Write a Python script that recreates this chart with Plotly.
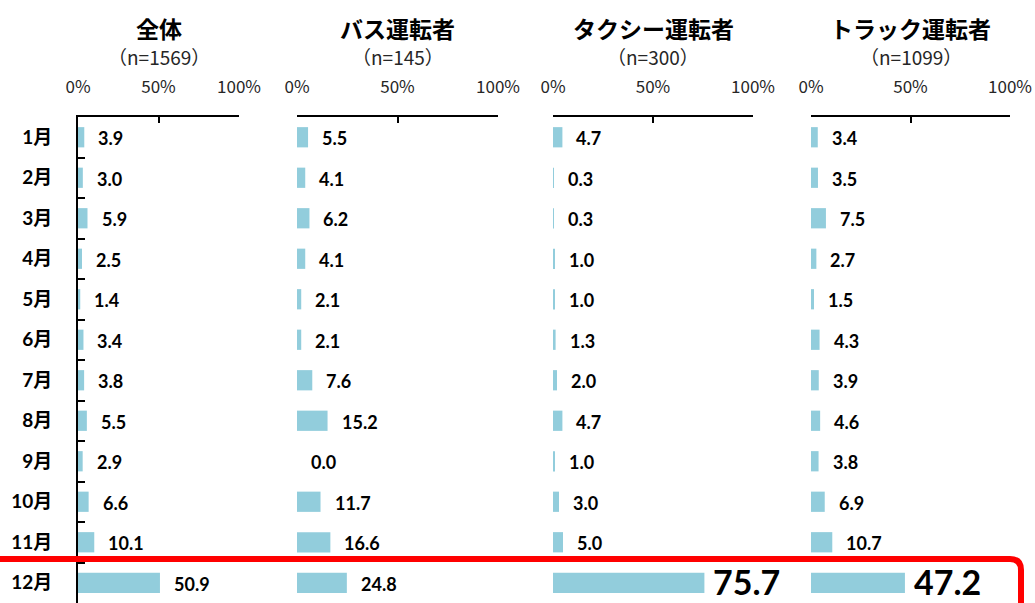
import plotly.graph_objects as go

W, H = 1035, 603

months = ["1月", "2月", "3月", "4月", "5月", "6月", "7月", "8月", "9月", "10月", "11月", "12月"]
titles = ["全体", "バス運転者", "タクシー運転者", "トラック運転者"]
subtitles = ["（n=1569）", "（n=145）", "（n=300）", "（n=1099）"]
zentai = [3.9, 3.0, 5.9, 2.5, 1.4, 3.4, 3.8, 5.5, 2.9, 6.6, 10.1, 50.9]
bus = [5.5, 4.1, 6.2, 4.1, 2.1, 2.1, 7.6, 15.2, 0.0, 11.7, 16.6, 24.8]
taxi = [4.7, 0.3, 0.3, 1.0, 1.0, 1.3, 2.0, 4.7, 1.0, 3.0, 5.0, 75.7]
truck = [3.4, 3.5, 7.5, 2.7, 1.5, 4.3, 3.9, 4.6, 3.8, 6.9, 10.7, 47.2]
tick_vals = [0, 50, 100]
tick_text = ["0%", "50%", "100%"]

series = [zentai, bus, taxi, truck]
# panel pixel extents (left, right) of the 0-100% axis
panel_px = [(78, 239), (297, 498), (553, 753), (811, 1010)]
plot_top_px = 117

BAR = "#92CDDC"
NUM_FONT = "Lato, 'Noto Sans CJK JP', sans-serif"
JP_FONT = "'Noto Sans CJK JP', 'Noto Sans', sans-serif"


def px(x):
    return x / W


def py(y):
    return 1 - y / H


fig = go.Figure()
annotations = []
layout_axes = {}

for i, vals in enumerate(series):
    n = "" if i == 0 else str(i + 1)
    fig.add_trace(go.Bar(
        x=vals, y=months, orientation="h",
        xaxis="x" + n, yaxis="y" + n,
        marker=dict(color=BAR, line=dict(width=0)),
        width=0.5, showlegend=False, hoverinfo="x+y",
    ))
    l, r = panel_px[i]
    layout_axes["xaxis" + n] = dict(
        domain=[px(l), px(r)], range=[0, 100], side="top",
        anchor="y" + n, tickvals=tick_vals, ticktext=tick_text,
        showline=True, linecolor="black", linewidth=2,
        ticks="inside", ticklen=6, tickwidth=1.5, tickcolor="black",
        showgrid=False, zeroline=False, ticklabelstandoff=15,
        tickfont=dict(family=JP_FONT, size=17, color="#262626"),
        fixedrange=True, automargin=False,
    )
    yax = dict(
        domain=[0, py(plot_top_px)], anchor="x" + n,
        type="category", categoryorder="array", categoryarray=months,
        range=[11.5, -0.5], showgrid=False, zeroline=False,
        fixedrange=True, automargin=False,
    )
    if i == 0:
        yax.update(showline=True, linecolor="black", linewidth=2,
                   ticks="inside", tickson="boundaries", ticklen=7,
                   tickwidth=1.5, tickcolor="black", ticklabelstandoff=20,
                   tickfont=dict(family=NUM_FONT, size=19, color="black",
                                 weight="bold"))
    else:
        yax.update(showline=False, showticklabels=False, ticks="")
    layout_axes["yaxis" + n] = yax

    for j, v in enumerate(vals):
        big = (j == 11 and i >= 2)
        annotations.append(dict(
            x=v, y=months[j], xref="x" + n, yref="y" + n,
            text=f"{v:.1f}", showarrow=False, xanchor="left",
            yanchor="middle", xshift=7 if big else 12,
            yshift=1 if big else -1,
            font=dict(family=NUM_FONT, size=34 if big else 18,
                      color="black", weight="bold"),
        ))

    cx = (l + r) / 2
    annotations.append(dict(
        x=px(cx), y=py(28), xref="paper", yref="paper", text=titles[i],
        showarrow=False, xanchor="center", yanchor="middle",
        font=dict(family=JP_FONT, size=23, color="black", weight="bold"),
    ))
    annotations.append(dict(
        x=px(cx), y=py(56), xref="paper", yref="paper", text=subtitles[i],
        showarrow=False, xanchor="center", yanchor="middle",
        font=dict(family=JP_FONT, size=19, color="#262626"),
    ))

# red rounded frame highlighting December
top, right, rad = 559, 1021, 11
path = (f"M {px(-10)},{py(top)} L {px(right - rad)},{py(top)} "
        f"Q {px(right)},{py(top)} {px(right)},{py(top + rad)} "
        f"L {px(right)},{py(H + 20)}")

fig.update_layout(
    width=W, height=H,
    margin=dict(l=0, r=0, t=0, b=0),
    paper_bgcolor="white", plot_bgcolor="white",
    annotations=annotations,
    shapes=[dict(type="path", path=path, xref="paper", yref="paper",
                 line=dict(color="#FF0000", width=6), layer="above")],
    bargap=0.5,
    **layout_axes,
)

fig.write_html("out.html")
